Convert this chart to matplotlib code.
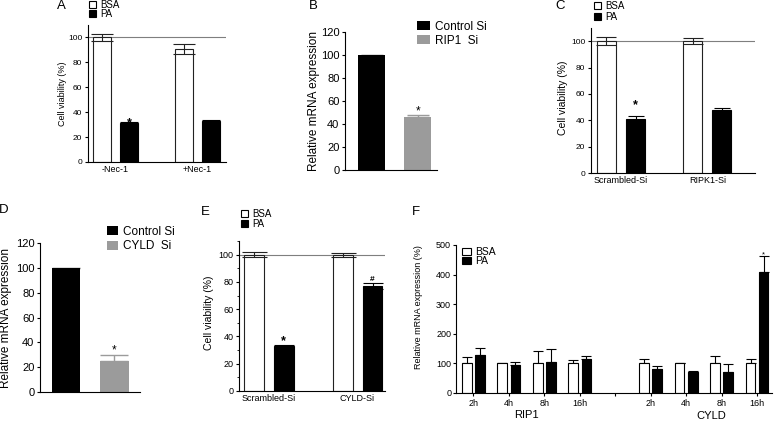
import numpy as np
import matplotlib
matplotlib.use('Agg')
import matplotlib.pyplot as plt
from matplotlib.patches import Patch

plt.rcParams['font.family'] = ['Liberation Sans', 'DejaVu Sans']

W, H = 778, 421

# A: cell viability, Nec-1
a_groups = ['-Nec-1', '+Nec-1']
a_bsa = [100, 91]
a_bsa_err = [3, 4]
a_pa = [31, 33]
a_pa_err = [1, 1]

# B: RIP1 knockdown
b_labels = ['Control Si', 'RIP1  Si']
b_vals = [100, 46]
b_err = [0, 2]

# C: cell viability, RIPK1 siRNA
c_groups = ['Scrambled-Si', 'RIPK1-Si']
c_bsa = [100, 100]
c_bsa_err = [3, 2.5]
c_pa = [41, 48]
c_pa_err = [2, 1]

# D: CYLD knockdown
d_labels = ['Control Si', 'CYLD  Si']
d_vals = [100, 25]
d_err = [0, 5]

# E: cell viability, CYLD siRNA
e_groups = ['Scrambled-Si', 'CYLD-Si']
e_bsa = [100, 100]
e_bsa_err = [2, 1.5]
e_pa = [33, 77]
e_pa_err = [1, 2]

# F: time course
f_genes = ['RIP1', 'CYLD']
f_times = ['2h', '4h', '8h', '16h']
f_bsa = [100, 100, 100, 100, 100, 100, 100, 100]
f_bsa_err = [20, 1, 42, 10, 15, 0, 25, 15]
f_pa = [130, 95, 105, 115, 80, 72, 70, 408]
f_pa_err = [22, 10, 43, 10, 12, 1, 28, 55]

GRAY = '#9b9b9b'
fig = plt.figure(figsize=(W / 100, H / 100), dpi=100)


def px_axes(x0, x1, ytop, ybot):
    ax = fig.add_axes([x0 / W, 1 - ybot / H, (x1 - x0) / W, (ybot - ytop) / H])
    for s in ['top', 'right']:
        ax.spines[s].set_visible(False)
    for s in ['left', 'bottom']:
        ax.spines[s].set_linewidth(0.8)
    return ax


def mark(ax, x, y, s, dy_px, fs, bold=False, frac=0.575):
    # place glyph centre dy_px above (x, y)
    off = dy_px * 72 / 100 - frac * fs
    ax.annotate(s, xy=(x, y), xytext=(0, off), textcoords='offset points',
                ha='center', va='baseline', fontsize=fs,
                fontweight='bold' if bold else 'normal')


def legend(ax, x, y, labels, handles, fs, hl, hh, ls):
    ax.legend(handles, labels, loc='upper left', bbox_to_anchor=(x / W, 1 - y / H),
              bbox_transform=fig.transFigure, frameon=False, fontsize=fs,
              borderpad=0, borderaxespad=0, handlelength=hl, handleheight=hh,
              labelspacing=ls, handletextpad=0.4)


def viability(ax, groups, bsa, bsa_err, pa, pa_err, xlim, width, off, cap, fs, xfs, lfs):
    x = np.arange(len(groups))
    ax.axhline(100, color='#7f7f7f', lw=0.8, zorder=1)
    ax.bar(x - off, bsa, width, color='white', edgecolor='#222222', lw=0.8, zorder=2)
    ax.bar(x + off, pa, width, color='black', edgecolor='black', lw=0.8, zorder=2)
    ax.errorbar(x - off, bsa, yerr=bsa_err, fmt='none', ecolor='#222222',
                elinewidth=0.8, capsize=cap, capthick=0.8, zorder=3)
    ax.errorbar(x + off, pa, yerr=pa_err, fmt='none', ecolor='black',
                elinewidth=0.8, capsize=cap * 0.8, capthick=0.8, zorder=3)
    ax.set_xlim(*xlim)
    ax.set_ylim(0, 110)
    ax.set_yticks(range(0, 101, 20))
    ax.set_xticks(x)
    ax.set_xticklabels(groups)
    ax.tick_params(labelsize=fs, length=2.5, width=0.8, pad=1.5)
    ax.tick_params(axis='x', length=0, labelsize=xfs, pad=2)
    ax.set_ylabel('Cell viability (%)', fontsize=lfs)
    return x


def knockdown(ax, vals, err, xlim, width, cap, fs):
    x = np.arange(len(vals))
    ax.bar(x, vals, width, color=['black', GRAY], zorder=2)
    ax.errorbar(x, vals, yerr=[[0] * len(err), err], fmt='none', ecolor=GRAY,
                elinewidth=1, capsize=cap, capthick=1, zorder=1)
    ax.set_xlim(*xlim)
    ax.set_ylim(0, 120)
    ax.set_yticks(range(0, 121, 20))
    ax.set_xticks([])
    ax.tick_params(labelsize=fs, length=2.5, width=0.8, pad=1.5)
    ax.set_ylabel('Relative mRNA expression', fontsize=fs + 0.5)
    return x


bw_handles = [Patch(facecolor='white', edgecolor='black', lw=0.8),
              Patch(facecolor='black', edgecolor='black', lw=0.8)]
kd_handles = [Patch(facecolor='black'), Patch(facecolor=GRAY)]

# A
ax = px_axes(88, 226, 25, 162)
x = viability(ax, a_groups, a_bsa, a_bsa_err, a_pa, a_pa_err, (-0.335, 1.35), 0.22, 0.165, 8,
              6, 6.5, 6.5)
ax.yaxis.set_label_coords(-0.155, 0.5)
mark(ax, x[0] + 0.165, a_pa[0], '*', 4.5, 9, True)
legend(ax, 89, 0, ['BSA', 'PA'], bw_handles, 7, 0.75, 0.7, -0.1)

# B
ax = px_axes(345, 437, 32, 170)
x = knockdown(ax, b_vals, b_err, (-0.576, 1.42), 0.587, 8, 8)
ax.yaxis.set_label_coords(-0.272, 0.5)
mark(ax, x[1], b_vals[1], '*', 9, 8.5)
legend(ax, 417, 21, b_labels, kd_handles, 8.5, 1.1, 0.8, 0.15)

# C
ax = px_axes(591, 755, 28, 173)
x = viability(ax, c_groups, c_bsa, c_bsa_err, c_pa, c_pa_err, (-0.347, 1.55), 0.22, 0.168, 7.5,
              6, 6.5, 7.5)
ax.yaxis.set_label_coords(-0.14, 0.52)
mark(ax, x[0] + 0.168, c_pa[0], '*', 18, 9, True)
legend(ax, 594, 1, ['BSA', 'PA'], bw_handles, 7, 0.75, 0.7, 0.1)

# D
ax = px_axes(40, 140, 243, 392)
x = knockdown(ax, d_vals, d_err, (-0.536, 1.526), 0.58, 10, 8)
ax.yaxis.set_label_coords(-0.28, 0.5)
mark(ax, x[1], d_vals[1], '*', 14, 8.5)
legend(ax, 107, 226, d_labels, kd_handles, 8.5, 0.95, 0.8, 0.2)

# E
ax = px_axes(239, 385, 241, 391)
x = viability(ax, e_groups, e_bsa, e_bsa_err, e_pa, e_pa_err, (-0.337, 1.31), 0.225, 0.169, 9,
              6.5, 6.5, 7.5)
ax.set_yticks(range(0, 111, 10), minor=True)
ax.tick_params(axis='y', which='minor', length=1.5, width=0.6)
ax.yaxis.set_label_coords(-0.17, 0.52)
mark(ax, x[0] + 0.169, e_pa[0], '*', 9, 9, True)
mark(ax, x[1] + 0.169, e_pa[1], '#', 8, 6, True, frac=0.36)
legend(ax, 241, 209, ['BSA', 'PA'], bw_handles, 7, 0.75, 0.7, 0.0)

# F
ax = px_axes(456, 772, 245, 393)
fx = np.array([0, 1, 2, 3, 5, 6, 7, 8])
ax.bar(fx - 0.185, f_bsa, 0.27, color='white', edgecolor='black', lw=0.8, zorder=2)
ax.bar(fx + 0.185, f_pa, 0.27, color='black', edgecolor='black', lw=0.8, zorder=2)
ax.errorbar(fx - 0.185, f_bsa, yerr=[[0] * 8, f_bsa_err], fmt='none', ecolor='black',
            elinewidth=0.8, capsize=3.5, capthick=0.8, zorder=1)
ax.errorbar(fx + 0.185, f_pa, yerr=[[0] * 8, f_pa_err], fmt='none', ecolor='black',
            elinewidth=0.8, capsize=3.5, capthick=0.8, zorder=1)
ax.set_xlim(-0.49, 8.42)
ax.set_ylim(0, 500)
ax.set_yticks(range(0, 501, 100))
ax.set_xticks(range(9))
ax.set_xticklabels(f_times + [''] + f_times)
ax.tick_params(labelsize=6.5, length=2, width=0.8, pad=1.5)
ax.tick_params(axis='x', pad=2)
ax.set_ylabel('Relative mRNA expression (%)', fontsize=6.5)
ax.yaxis.set_label_coords(-0.105, 0.58)
tr = ax.get_xaxis_transform()
ax.text(1.5, -0.149, f_genes[0], transform=tr, ha='center', va='center', fontsize=8)
ax.text(6.7, -0.155, f_genes[1], transform=tr, ha='center', va='center', fontsize=8)
mark(ax, fx[7] + 0.185, f_pa[7] + f_pa_err[7], '*', 4, 5.5)
legend(ax, 462, 247, ['BSA', 'PA'], bw_handles, 7.5, 0.9, 0.75, -0.1)

# panel letters
for s, px, py in [('A', 61, 6), ('B', 313, 6), ('C', 560, 6),
                  ('D', 4, 210), ('E', 205, 212), ('F', 416, 212)]:
    fig.text(px / W, 1 - py / H, s, fontsize=9.5, ha='center', va='center')

fig.savefig('out.png', dpi=100)
